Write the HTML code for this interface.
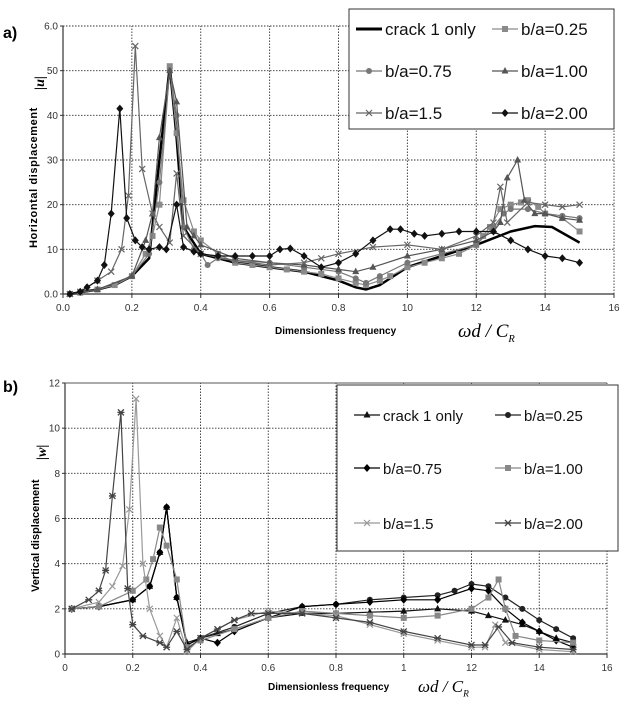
<!DOCTYPE html>
<html><head><meta charset="utf-8"><style>
body{margin:0;background:#fff;width:623px;height:702px;overflow:hidden;font-family:"Liberation Sans",sans-serif}
svg{position:absolute;left:0;top:0}
</style></head><body>
<svg id="s" width="623" height="702"></svg>
<script>
// ---- Chart a) data ----
const aXTicks=[0,0.2,0.4,0.6,0.8,1.0,1.2,1.4,1.6];
const aXTickLabels=["0.0","0.2","0.4","0.6","0.8","10","12","14","16"];
const aYTicks=[0,10,20,30,40,50,60];
const aYTickLabels=["0.0","10","20","30","40","50","6.0"];
const aCrackX=[0.02,0.1,0.15,0.2,0.25,0.28,0.31,0.33,0.35,0.4,0.5,0.6,0.7,0.8,0.85,0.88,0.92,1.0,1.1,1.2,1.3,1.37,1.42,1.5];
const aCrackY=[0,1,2,4,8,30,51,35,15,9,7,6,5,3,1.5,1,2,6,8.5,11,14,15.2,15,11.5];
const a025X=[0.02,0.05,0.1,0.15,0.2,0.24,0.26,0.28,0.31,0.33,0.35,0.38,0.4,0.45,0.5,0.55,0.6,0.65,0.7,0.75,0.8,0.85,0.88,0.92,0.95,1.0,1.05,1.1,1.15,1.2,1.22,1.24,1.27,1.3,1.33,1.35,1.38,1.4,1.45,1.5];
const a025Y=[0,0.3,1,2,4,9,13,20,51,36,21,14,12,9,7,6.5,6,5.5,5,4.5,3.5,2.5,2,3,4,6,7,8,9,11,13,15,19,20,20.5,21,19.5,18,17,14];
const a075X=[0.02,0.1,0.2,0.25,0.28,0.31,0.33,0.35,0.38,0.4,0.42,0.45,0.5,0.6,0.7,0.8,0.85,0.88,0.92,1.0,1.1,1.2,1.25,1.28,1.3,1.35,1.4,1.45,1.5];
const a075Y=[0,1,4,9,25,50,40,15,10,9,6.5,8,7.5,7,6,5,3.5,2.5,4,7,9,11,15,18,19,19,18,17.5,17];
const a100X=[0.02,0.1,0.2,0.24,0.26,0.28,0.31,0.33,0.36,0.38,0.4,0.5,0.6,0.7,0.8,0.85,0.9,1.0,1.1,1.2,1.25,1.27,1.29,1.32,1.34,1.37,1.4,1.45,1.5];
const a100Y=[0,1,4,12,18,35,50,43,15,13,11,8,7,6.5,5.5,5,6,8.5,10,12,14,16,26,30,21,18,18,17,16.5];
const a15X=[0.02,0.05,0.1,0.14,0.17,0.19,0.21,0.23,0.26,0.28,0.31,0.33,0.35,0.4,0.5,0.6,0.7,0.75,0.8,0.9,1.0,1.1,1.2,1.25,1.27,1.29,1.35,1.4,1.45,1.5];
const a15Y=[0,0.5,3,5,10,22,55.5,28,18,15,11.5,27,13,9,7.5,6.5,7,8,9,10.5,11,10,13,16,24,16,20.5,20,19.5,20];
const a20X=[0.02,0.05,0.07,0.1,0.12,0.14,0.165,0.185,0.21,0.23,0.25,0.28,0.3,0.33,0.35,0.38,0.4,0.45,0.5,0.55,0.6,0.63,0.66,0.7,0.75,0.8,0.85,0.9,0.95,0.98,1.02,1.05,1.1,1.15,1.2,1.25,1.3,1.35,1.4,1.45,1.5];
const a20Y=[0,0.5,1.5,3,6.5,18,41.5,17,12,10.5,10,10.5,10,20,10.5,9.5,9,8.5,8.5,8.5,8.5,10,10.2,8.5,6,7,9,12,14.5,14.5,13.5,13,13.5,14,14,14,12,10,8.5,8,7];
// ---- Chart b) data ----
const bXTicks=[0,0.2,0.4,0.6,0.8,1,1.2,1.4,1.6];
const bXTickLabels=["0","0.2","0.4","0.6","0.8","1","12","14","16"];
const bYTicks=[0,2,4,6,8,10,12];
const bYTickLabels=["0","2","4","6","8","10","12"];
const bCrackX=[0.02,0.1,0.2,0.25,0.28,0.3,0.33,0.36,0.4,0.45,0.5,0.6,0.7,0.8,0.9,1.0,1.1,1.2,1.25,1.3,1.35,1.4,1.45,1.5];
const bCrackY=[2,2.1,2.4,3,4.5,6.5,2.5,0.5,0.7,0.9,1.1,1.6,1.8,1.8,1.85,1.9,2,1.9,1.7,1.5,1.3,1,0.7,0.5];
const b025X=[0.02,0.1,0.2,0.25,0.28,0.3,0.33,0.36,0.4,0.5,0.6,0.7,0.8,0.9,1.0,1.1,1.15,1.2,1.25,1.3,1.35,1.4,1.45,1.5];
const b025Y=[2,2.1,2.4,3,4.5,6.5,2.5,0.4,0.7,1.2,1.8,2.1,2.2,2.4,2.5,2.6,2.8,3.1,3,2.5,2,1.5,1.1,0.7];
const b075X=[0.02,0.1,0.2,0.25,0.28,0.3,0.33,0.36,0.4,0.45,0.5,0.6,0.7,0.8,0.9,1.0,1.1,1.2,1.25,1.3,1.35,1.4,1.45,1.5];
const b075Y=[2,2.1,2.4,3,4.5,6.5,2.5,0.4,0.7,0.5,1,1.6,2.1,2.2,2.3,2.4,2.4,2.9,2.8,2,1.4,1,0.6,0.3];
const b100X=[0.02,0.1,0.2,0.24,0.26,0.28,0.3,0.33,0.36,0.4,0.5,0.6,0.7,0.8,0.9,1.0,1.1,1.2,1.25,1.28,1.3,1.33,1.4,1.5];
const b100Y=[2,2.1,2.8,3.3,4.2,5.6,4.8,3.3,0.3,0.6,1.1,1.6,1.9,1.8,1.7,1.6,1.7,2,2.5,3.3,2,0.8,0.6,0.5];
const b15X=[0.02,0.1,0.14,0.17,0.19,0.21,0.23,0.25,0.28,0.3,0.33,0.36,0.4,0.5,0.6,0.7,0.8,0.9,1.0,1.1,1.2,1.24,1.27,1.3,1.4,1.5];
const b15Y=[2,2.3,3,3.9,6.4,11.3,4,2,0.8,0.3,1.6,0.1,0.7,1.5,1.9,1.8,1.7,1.3,0.9,0.6,0.3,0.3,1.3,0.5,0.2,0.1];
const b20X=[0.02,0.07,0.1,0.12,0.14,0.165,0.185,0.2,0.23,0.28,0.3,0.33,0.36,0.4,0.45,0.5,0.55,0.6,0.7,0.8,0.9,1.0,1.1,1.2,1.24,1.28,1.32,1.4,1.5];
const b20Y=[2,2.4,2.8,3.7,7,10.7,2.9,1.3,0.8,0.5,0.3,1,0.2,0.7,1.1,1.5,1.8,1.8,1.8,1.6,1.4,1,0.7,0.4,0.4,1.2,0.5,0.3,0.2];

const S=document.getElementById('s');const NS='http://www.w3.org/2000/svg';
function el(t,a,p){const e=document.createElementNS(NS,t);for(const k in a)e.setAttribute(k,a[k]);(p||S).appendChild(e);return e;}
function marker(g,type,x,y,c){
  let m;
  if(type==='sq')m=el('rect',{x:x-3,y:y-3,width:6,height:6,fill:c},g);
  else if(type==='ci')m=el('circle',{cx:x,cy:y,r:3,fill:c},g);
  else if(type==='tr')m=el('polygon',{points:`${x},${y-4} ${x+3.5},${y+2.5} ${x-3.5},${y+2.5}`,fill:c},g);
  else if(type==='di')m=el('polygon',{points:`${x},${y-4} ${x+3.5},${y} ${x},${y+4} ${x-3.5},${y}`,fill:c},g);
  else if(type==='x'){m=el('path',{d:`M${x-3},${y-3}L${x+3},${y+3}M${x+3},${y-3}L${x-3},${y+3}`,stroke:c,'stroke-width':1.2,fill:'none'},g);}
  else if(type==='st'){m=el('path',{d:`M${x-3},${y-3}L${x+3},${y+3}M${x+3},${y-3}L${x-3},${y+3}M${x-3.5},${y}L${x+3.5},${y}`,stroke:c,'stroke-width':1.3,fill:'none'},g);}
  if(m){}
}
function chart(cfg){
  const {x0,x1,y0,y1,xmax,ymax,name}=cfg;
  const X=v=>x0+(x1-x0)*v/xmax, Y=v=>y0-(y0-y1)*v/ymax;
  const g=el('g',{});
  cfg.xt.forEach((t,i)=>{if(i>0)el('line',{x1:X(t),x2:X(t),y1:y0,y2:y1,stroke:'#333','stroke-width':0.9,'stroke-dasharray':'1.5,1.5'},g);
    const tx=el('text',{x:X(t),y:y0+17,'font-size':10,'text-anchor':'middle',fill:'#333'},g);tx.textContent=cfg.xl[i];
    
    el('line',{x1:X(t),x2:X(t),y1:y0,y2:y0+4,stroke:'#333'},g);});
  cfg.yt.forEach((t,i)=>{if(i>0)el('line',{x1:x0,x2:x1,y1:Y(t),y2:Y(t),stroke:'#333','stroke-width':0.9,'stroke-dasharray':'1.5,1.5'},g);
    const tx=el('text',{x:x0-5,y:Y(t)+3.5,'font-size':10,'text-anchor':'end',fill:'#333'},g);tx.textContent=cfg.yl[i];
    
    el('line',{x1:x0-3,x2:x0,y1:Y(t),y2:Y(t),stroke:'#333'},g);});
  el('line',{x1:x0,x2:x0,y1:y0,y2:y1,stroke:'#333','stroke-width':1.2},g);
  el('line',{x1:x0,x2:x1,y1:y0,y2:y0,stroke:'#333','stroke-width':1.2},g);
  if(cfg.frameTop)el('line',{x1:x0,x2:x1,y1:y1,y2:y1,stroke:'#555','stroke-width':1},g);
  cfg.series.forEach(s=>{
    const sg=el('g',{},g);
    const pts=s.x.map((v,i)=>X(v).toFixed(1)+','+Y(s.y[i]).toFixed(1)).join(' ');
    el('polyline',{points:pts,fill:'none',stroke:s.c,'stroke-width':s.w||1.2},sg);
    if(s.m)s.x.forEach((v,i)=>marker(sg,s.m,X(v),Y(s.y[i]),s.c));
  });
  return {X,Y};
}
chart({name:'chart-a',x0:63,x1:614,y0:294,y1:26,xmax:1.6,ymax:60,xt:aXTicks,xl:aXTickLabels,yt:aYTicks,yl:aYTickLabels,series:[
 {name:'series-crack1',x:aCrackX,y:aCrackY,c:'#000',w:2.5},
 {name:'series-ba025',x:a025X,y:a025Y,c:'#8a8a8a',m:'sq'},
 {name:'series-ba075',x:a075X,y:a075Y,c:'#777',m:'ci'},
 {name:'series-ba100',x:a100X,y:a100Y,c:'#555',m:'tr'},
 {name:'series-ba15',x:a15X,y:a15Y,c:'#666',m:'x'},
 {name:'series-ba200',x:a20X,y:a20Y,c:'#111',m:'di'}]});
chart({name:'chart-b',x0:65,x1:607,y0:654,y1:383,xmax:1.6,ymax:12,xt:bXTicks,xl:bXTickLabels,yt:bYTicks,yl:bYTickLabels,frameTop:true,series:[
 {name:'series-crack1',x:bCrackX,y:bCrackY,c:'#111',m:'tr'},
 {name:'series-ba025',x:b025X,y:b025Y,c:'#222',m:'ci'},
 {name:'series-ba075',x:b075X,y:b075Y,c:'#000',m:'di'},
 {name:'series-ba100',x:b100X,y:b100Y,c:'#888',m:'sq'},
 {name:'series-ba15',x:b15X,y:b15Y,c:'#999',m:'x'},
 {name:'series-ba200',x:b20X,y:b20Y,c:'#444',m:'st'}]});

function txt(x,y,s,a,name){const t=el('text',Object.assign({x:x,y:y},a));t.textContent=s;return t;}
function sym(x,y,fs,name){const t=el('text',{x:x,y:y,'font-size':fs,'font-style':'italic','font-family':'Liberation Serif, serif'});
  
  t.appendChild(document.createTextNode('ωd / C'));
  const sp=el('tspan',{'font-size':fs*0.55,dy:fs*0.25},t);sp.textContent='R';return t;}
txt(3,38,'a)',{'font-size':16,'font-weight':'bold'},'panel-label-a');
txt(3,392,'b)',{'font-size':16,'font-weight':'bold'},'panel-label-b');
txt(0,0,'Horizontal displacement',{'font-size':11,'font-weight':'bold','letter-spacing':'0.6',transform:'translate(37,248) rotate(-90)'},'y-axis-title-a');
txt(0,0,'|u|',{'font-size':14,'font-style':'italic','font-family':'Liberation Serif, serif','font-weight':'bold',transform:'translate(44,90) rotate(-90)'},'y-axis-symbol-a');
txt(0,0,'Vertical displacement',{'font-size':11,'font-weight':'bold',transform:'translate(39,592) rotate(-90)'},'y-axis-title-b');
txt(0,0,'|w|',{'font-size':14,'font-style':'italic','font-family':'Liberation Serif, serif','font-weight':'bold',transform:'translate(46,460) rotate(-90)'},'y-axis-symbol-b');
txt(275,334,'Dimensionless frequency',{'font-size':10,'font-weight':'bold'},'x-axis-title-a');
sym(458,337,19,'x-axis-symbol-a');
txt(268,690,'Dimensionless frequency',{'font-size':10,'font-weight':'bold'},'x-axis-title-b');
sym(418,692,17,'x-axis-symbol-b');
function legend(name,bx,by,bw,bh,items,fs){
  const g=el('g',{});
  el('rect',{x:bx,y:by,width:bw,height:bh,fill:'#fff',stroke:'#333','stroke-width':1},g);
  items.forEach(it=>{
    const eg=el('g',{},g);
    el('line',{x1:it.x,x2:it.x+26,y1:it.y,y2:it.y,stroke:it.c,'stroke-width':it.w||1.2},eg);
    if(it.m)marker(eg,it.m,it.x+13,it.y,it.c);
    const t=el('text',{x:it.x+29,y:it.y+6,'font-size':fs,fill:'#111'},eg);t.textContent=it.t;
  });
}
legend('legend-a',349,9,265,120,[
 {x:356,y:29,t:'crack 1 only',c:'#000',w:3},{x:492,y:29,t:'b/a=0.25',c:'#8a8a8a',m:'sq'},
 {x:356,y:71,t:'b/a=0.75',c:'#777',m:'ci'},{x:492,y:71,t:'b/a=1.00',c:'#555',m:'tr'},
 {x:356,y:113,t:'b/a=1.5',c:'#666',m:'x'},{x:492,y:113,t:'b/a=2.00',c:'#111',m:'di'}],17);
legend('legend-b',337,385,281,166,[
 {x:354,y:415,t:'crack 1 only',c:'#111',m:'tr'},{x:495,y:415,t:'b/a=0.25',c:'#222',m:'ci'},
 {x:354,y:468,t:'b/a=0.75',c:'#000',m:'di'},{x:495,y:468,t:'b/a=1.00',c:'#888',m:'sq'},
 {x:354,y:523,t:'b/a=1.5',c:'#999',m:'x'},{x:495,y:523,t:'b/a=2.00',c:'#444',m:'st'}],15);
</script>
</body></html>
